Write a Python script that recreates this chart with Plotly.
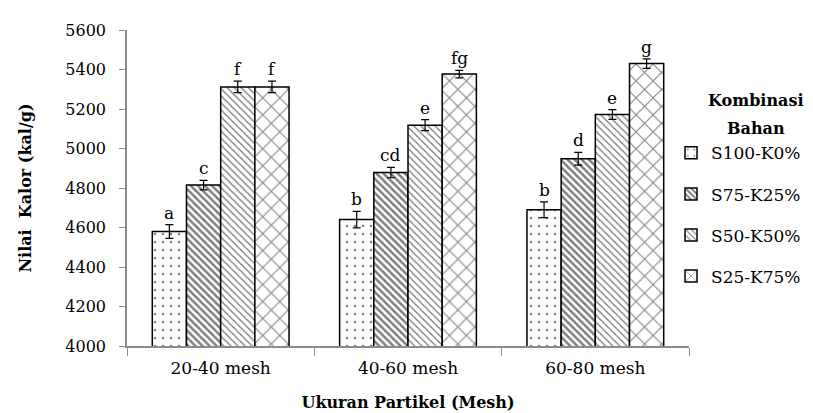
import plotly.graph_objects as go

categories = ["20-40 mesh", "40-60 mesh", "60-80 mesh"]
series_names = ["S100-K0%", "S75-K25%", "S50-K50%", "S25-K75%"]
values = [
    [4580, 4640, 4690],
    [4815, 4878, 4948],
    [5312, 5118, 5172],
    [5312, 5377, 5430],
]
errors = [
    [35, 42, 40],
    [24, 26, 32],
    [29, 28, 25],
    [29, 19, 24],
]
letters = [
    ["a", "b", "b"],
    ["c", "cd", "d"],
    ["f", "e", "e"],
    ["f", "fg", "g"],
]
legend_title_lines = ["Kombinasi", "Bahan"]
patterns = [".", "\\", "\\", "x"]
pattern_sizes = [8, 5, 5, 12]
pattern_solidity = [0.08, 0.5, 0.28, 0.16]
y_ticks = [4000, 4200, 4400, 4600, 4800, 5000, 5200, 5400, 5600]

FONT = "DejaVu Serif, serif"
bargap = 0.27
n = len(series_names)
bw = (1 - bargap) / n

fig = go.Figure()
for i, name in enumerate(series_names):
    fig.add_trace(go.Bar(
        name=name,
        x=categories,
        y=values[i],
        base=0,
        legendgroup=name,
        marker=dict(
            color="white",
            line=dict(color="black", width=1.5),
            pattern=dict(shape=patterns[i], fgcolor="black", bgcolor="white",
                         size=pattern_sizes[i], solidity=pattern_solidity[i]),
        ),
        error_y=dict(type="data", array=errors[i], color="black", thickness=1.2, width=4),
    ))

annotations = []
for i in range(n):
    off = -(1 - bargap) / 2 + bw * (i + 0.5)
    for j in range(len(categories)):
        annotations.append(dict(
            x=j + off, y=values[i][j] + errors[i][j], xref="x", yref="y",
            text=letters[i][j], showarrow=False, yanchor="bottom", yshift=0,
            font=dict(family=FONT, size=17, color="black"),
        ))

for k, (line, ypos) in enumerate(zip(legend_title_lines, [0.778, 0.687])):
    annotations.append(dict(
        x=1.12, y=ypos, xref="paper", yref="paper",
        text="<b>" + line + "</b>", showarrow=False,
        xanchor="center", yanchor="middle", align="center",
        font=dict(family=FONT, size=16, color="black"),
    ))

fig.update_layout(
    width=813, height=413,
    margin=dict(l=119, r=132, t=22, b=75),
    plot_bgcolor="white", paper_bgcolor="white",
    barmode="group", bargap=bargap, bargroupgap=0,
    font=dict(family=FONT, size=16, color="black"),
    annotations=annotations,
    legend=dict(
        x=0.968, xanchor="left", y=0.667, yanchor="top",
        tracegroupgap=16, font=dict(size=17), itemwidth=30,
        bgcolor="rgba(0,0,0,0)",
    ),
    xaxis=dict(
        title=dict(text="<b>Ukuran Partikel (Mesh)</b>", font=dict(size=16), standoff=20),
        showline=True, linecolor="#8c8c8c", linewidth=1.5,
        ticks="outside", tickson="boundaries", ticklen=8, tickcolor="#8c8c8c",
        range=[-0.5, 2.5], tickfont=dict(size=17), ticklabelstandoff=6,
    ),
    yaxis=dict(
        title=dict(text="<b>Nilai  Kalor (kal/g)</b>", font=dict(size=16), standoff=30),
        range=[4000, 5600], tickvals=y_ticks,
        showline=True, linecolor="#8c8c8c", linewidth=1.5,
        ticks="outside", ticklen=6, tickcolor="#8c8c8c",
        showgrid=False, zeroline=False, tickfont=dict(size=16), ticklabelstandoff=10,
    ),
)

fig.write_html("out.html")
